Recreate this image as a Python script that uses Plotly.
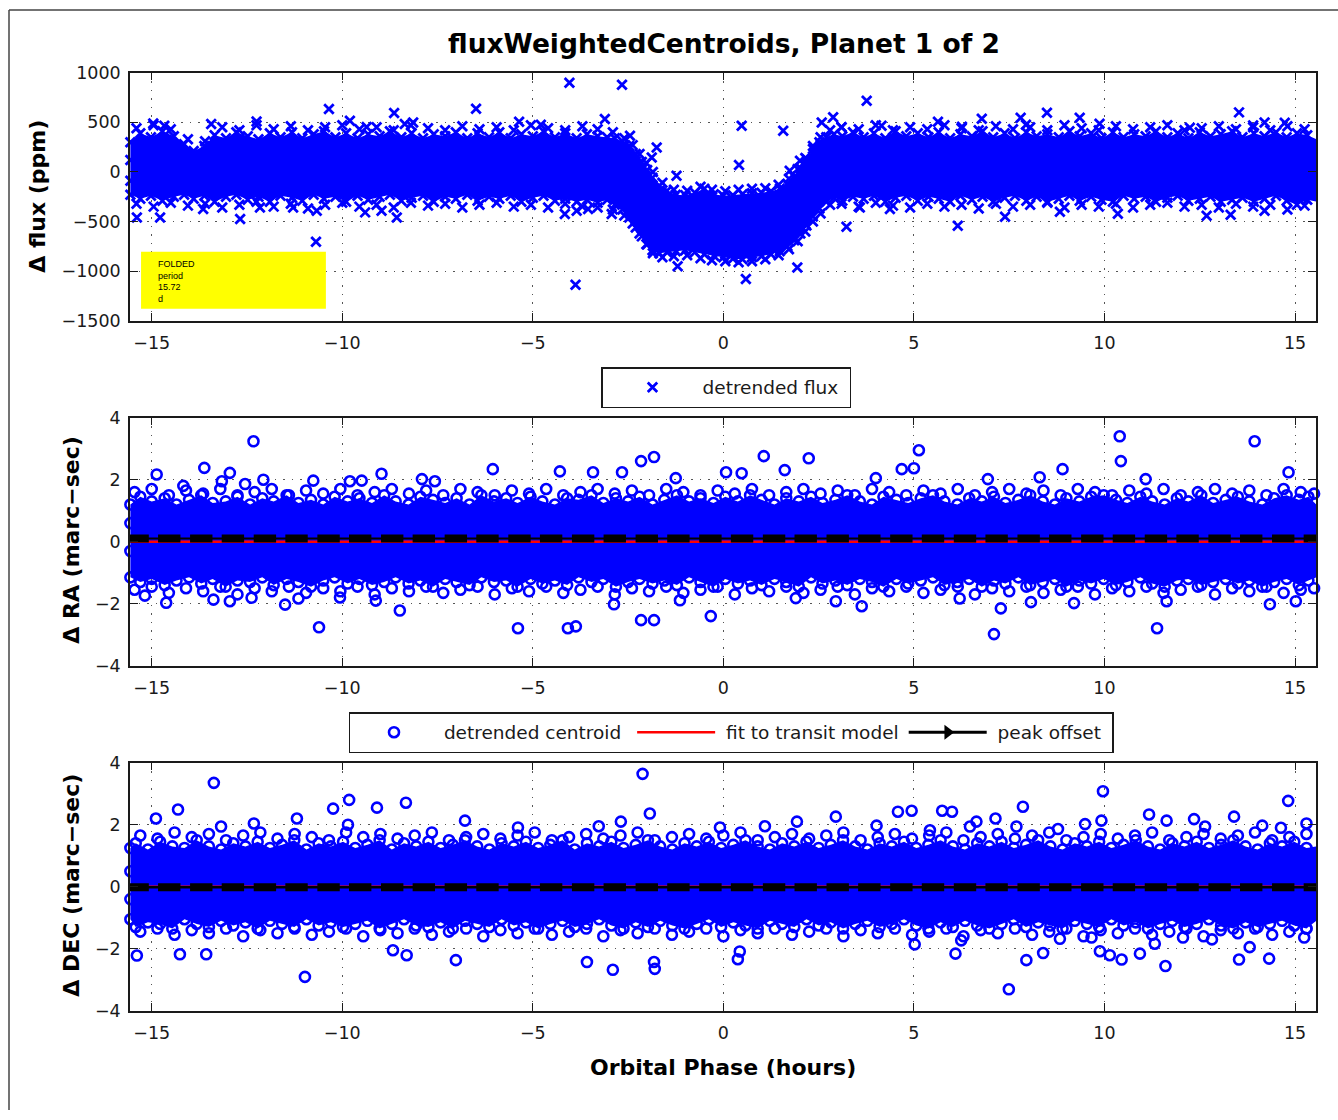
import plotly.graph_objects as go

# ------------------------------------------------------------------ data
phase_ticks = [-15, -10, -5, 0, 5, 10, 15]
flux_ticks = [-1500, -1000, -500, 0, 500, 1000]
cent_ticks = [-4, -2, 0, 2, 4]

# boundary of the dense folded-flux cloud: (phase h, upper ppm, lower ppm)
flux_cloud_edge = [
    (-15.56, 300, -230), (-15.3, 390, -270), (-15.02, 350, -240), (-14.72, 410, -290), (-14.42, 360, -250),
    (-14.15, 280, -230), (-13.9, 210, -270), (-13.62, 260, -240), (-13.35, 370, -300), (-13.05, 340, -250),
    (-12.78, 400, -230), (-12.48, 360, -280), (-12.2, 330, -250), (-11.9, 390, -300), (-11.62, 350, -240),
    (-11.32, 400, -260), (-11.05, 340, -290), (-10.75, 380, -230), (-10.48, 410, -270), (-10.18, 350, -250),
    (-9.9, 390, -300), (-9.6, 340, -240), (-9.32, 380, -280), (-9.02, 360, -250), (-8.75, 410, -230),
    (-8.45, 350, -290), (-8.18, 390, -260), (-7.88, 340, -240), (-7.6, 380, -300), (-7.3, 360, -250),
    (-7.02, 400, -270), (-6.72, 340, -230), (-6.45, 390, -290), (-6.15, 350, -250), (-5.88, 400, -270),
    (-5.58, 340, -240), (-5.3, 380, -300), (-5.0, 360, -260), (-4.72, 410, -240), (-4.42, 350, -290),
    (-4.15, 390, -270), (-3.85, 340, -300), (-3.58, 380, -280), (-3.3, 360, -310), (-3.05, 350, -280),
    (-2.85, 340, -330), (-2.65, 310, -380), (-2.47, 260, -460), (-2.3, 180, -560), (-2.14, 100, -650),
    (-2.0, 20, -730), (-1.86, -60, -790), (-1.68, -140, -820), (-1.48, -190, -810), (-1.25, -230, -800),
    (-1.0, -235, -790), (-0.75, -210, -810), (-0.5, -170, -830), (-0.25, -225, -845), (0.0, -240, -860),
    (0.25, -235, -875), (0.5, -225, -880), (0.75, -215, -860), (1.0, -210, -850), (1.25, -195, -830),
    (1.48, -170, -800), (1.68, -120, -750), (1.86, -50, -690), (2.02, 40, -620), (2.18, 130, -540),
    (2.35, 230, -450), (2.52, 300, -370), (2.7, 350, -300), (2.9, 380, -260), (3.12, 360, -290),
    (3.4, 400, -250), (3.68, 350, -270), (3.95, 390, -240), (4.25, 340, -300), (4.52, 410, -260),
    (4.8, 360, -240), (5.1, 390, -290), (5.38, 350, -250), (5.65, 400, -270), (5.95, 340, -300),
    (6.22, 380, -240), (6.52, 360, -280), (6.8, 410, -250), (7.08, 350, -300), (7.38, 390, -260),
    (7.65, 340, -240), (7.95, 400, -290), (8.22, 360, -250), (8.5, 380, -300), (8.8, 350, -270),
    (9.08, 410, -240), (9.35, 360, -290), (9.65, 390, -250), (9.92, 340, -280), (10.22, 400, -300),
    (10.5, 350, -240), (10.78, 380, -270), (11.08, 360, -250), (11.35, 410, -300), (11.65, 350, -260),
    (11.92, 390, -240), (12.2, 340, -290), (12.5, 400, -270), (12.78, 360, -250), (13.05, 380, -300),
    (13.35, 410, -280), (13.62, 350, -260), (13.92, 390, -300), (14.2, 360, -270), (14.5, 400, -240),
    (14.78, 350, -290), (15.05, 390, -330), (15.32, 370, -280), (15.56, 330, -300)]
# looser points just outside that boundary: (phase h, upper ppm, lower ppm)
flux_fringe = [
    (-15.4, 440, -320), (-14.95, 470, -350), (-14.5, 430, -310), (-14.05, 330, -340), (-13.6, 310, -320),
    (-13.15, 450, -360), (-12.7, 420, -330), (-12.25, 470, -300), (-11.8, 430, -350), (-11.35, 460, -320),
    (-10.9, 420, -370), (-10.45, 450, -330), (-10.0, 470, -310), (-9.55, 430, -350), (-9.1, 450, -330),
    (-8.65, 420, -360), (-8.2, 470, -310), (-7.75, 440, -340), (-7.3, 420, -320), (-6.85, 460, -360),
    (-6.4, 430, -330), (-5.95, 450, -310), (-5.5, 420, -350), (-5.05, 470, -330), (-4.6, 440, -360),
    (-4.15, 420, -320), (-3.7, 460, -350), (-3.3, 430, -360), (-2.9, 400, -380), (-2.6, 340, -440),
    (-2.38, 270, -520), (-2.2, 180, -620), (-2.02, 90, -730), (-1.85, 0, -820), (-1.6, -110, -860),
    (-1.3, -180, -850), (-0.95, -190, -840), (-0.6, -150, -870), (-0.3, -180, -890), (0.05, -195, -900),
    (0.4, -180, -910), (0.75, -170, -900), (1.1, -165, -880), (1.45, -130, -840), (1.72, -70, -780),
    (1.95, 30, -700), (2.15, 140, -600), (2.35, 260, -500), (2.55, 350, -420), (2.8, 420, -330),
    (3.1, 450, -320), (3.55, 430, -350), (4.0, 470, -310), (4.45, 420, -340), (4.9, 450, -360),
    (5.35, 430, -320), (5.8, 470, -350), (6.25, 440, -330), (6.7, 420, -370), (7.15, 460, -320),
    (7.6, 430, -350), (8.05, 450, -330), (8.5, 420, -310), (8.95, 470, -360), (9.4, 440, -330),
    (9.85, 420, -350), (10.3, 460, -320), (10.75, 430, -360), (11.2, 450, -330), (11.65, 470, -310),
    (12.1, 420, -350), (12.55, 440, -330), (13.0, 460, -360), (13.45, 430, -320), (13.9, 450, -350),
    (14.35, 420, -330), (14.8, 460, -380), (15.25, 430, -340), (15.56, 400, -320)]
flux_outliers = [(-15.39, -459), (-14.96, 489), (-14.78, -459), (-14.67, 466), (-13.65, -374), (-13.44, 483),
                 (-12.68, -475), (-12.25, 509), (-12.16, -358), (-11.29, -358), (-10.69, -703), (-10.67, -391),
                 (-10.35, 634), (-9.8, 516), (-9.4, -408), (-9.36, 452), (-8.97, -391), (-8.64, 594), (-8.57, -459),
                 (-8.36, 483), (-8.14, 499), (-6.49, 637), (-5.36, 506), (-4.79, 476), (-4.16, -424), (-4.04, 899),
                 (-3.88, -1137), (-3.85, -391), (-3.55, -374), (-3.11, 533), (-2.93, -424), (-2.66, 879),
                 (-2.45, 365), (-1.88, 146), (-1.75, 247), (-1.23, -38), (-1.2, -952), (0.41, 70), (0.48, 466),
                 (0.59, -1080), (1.57, 415), (1.74, 12), (1.94, -963), (2.01, 113), (2.58, 499), (2.88, 550),
                 (3.1, 449), (3.23, -552), (3.58, -358), (3.76, 718), (4.15, 466), (4.37, -374),
                 (5.63, 506), (6.15, -542), (6.26, 455), (6.78, 536), (7.39, -452), (7.8, 546), (7.94, 476),
                 (8.49, 597), (8.83, -401), (9.35, 546), (9.87, 486), (10.35, -421), (12.24, 445), (12.68, -441),
                 (13.31, -431), (13.53, 600), (13.9, 469), (14.2, 499), (14.2, -391), (14.73, 496), (15.56, -358),
                 (-15.56, 120), (-15.56, -90), (15.56, 160), (15.56, -140)]

# boundary of the dense RA centroid cloud: (phase h, upper, lower) in marc-sec
ra_cloud_edge = [
    (-15.56, 1.2, -1.15), (-15.3, 1.45, -1.3), (-15.0, 1.3, -1.2), (-14.66, 1.4, -1.4), (-14.35, 1.2, -1.25),
    (-14.02, 1.35, -1.15), (-13.7, 1.5, -1.35), (-13.4, 1.25, -1.2), (-13.06, 1.3, -1.45), (-12.75, 1.45, -1.25),
    (-12.42, 1.2, -1.3), (-12.1, 1.4, -1.15), (-11.8, 1.3, -1.4), (-11.46, 1.5, -1.2), (-11.15, 1.25, -1.3),
    (-10.82, 1.35, -1.45), (-10.5, 1.2, -1.25), (-10.2, 1.45, -1.15), (-9.86, 1.3, -1.35), (-9.55, 1.4, -1.2),
    (-9.22, 1.25, -1.4), (-8.9, 1.5, -1.3), (-8.6, 1.3, -1.15), (-8.26, 1.2, -1.35), (-7.95, 1.45, -1.25),
    (-7.62, 1.35, -1.45), (-7.3, 1.25, -1.2), (-7.0, 1.4, -1.3), (-6.66, 1.2, -1.4), (-6.35, 1.5, -1.15),
    (-6.02, 1.3, -1.3), (-5.7, 1.4, -1.25), (-5.4, 1.25, -1.45), (-5.06, 1.45, -1.2), (-4.75, 1.3, -1.35),
    (-4.42, 1.2, -1.25), (-4.1, 1.4, -1.4), (-3.8, 1.35, -1.15), (-3.46, 1.5, -1.3), (-3.15, 1.25, -1.2),
    (-2.82, 1.4, -1.45), (-2.5, 1.3, -1.3), (-2.2, 1.45, -1.2), (-1.86, 1.2, -1.35), (-1.55, 1.35, -1.25),
    (-1.22, 1.5, -1.4), (-0.9, 1.3, -1.15), (-0.6, 1.4, -1.3), (-0.26, 1.25, -1.45), (0.05, 1.45, -1.2),
    (0.38, 1.3, -1.35), (0.7, 1.5, -1.25), (1.0, 1.35, -1.4), (1.34, 1.2, -1.2), (1.65, 1.4, -1.3),
    (1.98, 1.3, -1.45), (2.3, 1.45, -1.15), (2.6, 1.25, -1.35), (2.94, 1.35, -1.25), (3.25, 1.5, -1.4),
    (3.58, 1.3, -1.2), (3.9, 1.2, -1.3), (4.2, 1.45, -1.45), (4.54, 1.35, -1.2), (4.85, 1.25, -1.35),
    (5.18, 1.4, -1.25), (5.5, 1.5, -1.15), (5.8, 1.3, -1.4), (6.14, 1.2, -1.3), (6.45, 1.4, -1.2),
    (6.78, 1.3, -1.45), (7.1, 1.45, -1.25), (7.4, 1.25, -1.35), (7.74, 1.35, -1.15), (8.05, 1.5, -1.4),
    (8.38, 1.3, -1.3), (8.7, 1.2, -1.2), (9.0, 1.4, -1.45), (9.34, 1.3, -1.25), (9.65, 1.45, -1.35),
    (9.98, 1.5, -1.2), (10.3, 1.35, -1.4), (10.6, 1.25, -1.3), (10.94, 1.45, -1.15), (11.25, 1.3, -1.35),
    (11.58, 1.2, -1.45), (11.9, 1.4, -1.25), (12.2, 1.3, -1.2), (12.54, 1.5, -1.4), (12.85, 1.25, -1.3),
    (13.18, 1.35, -1.2), (13.5, 1.45, -1.35), (13.8, 1.3, -1.25), (14.14, 1.2, -1.45), (14.45, 1.4, -1.3),
    (14.78, 1.5, -1.2), (15.1, 1.35, -1.4), (15.35, 1.45, -1.25), (15.56, 1.2, -1.15)]
ra_fringe = [
    (-15.45, 1.6, -1.55), (-15.0, 1.7, -1.45), (-14.55, 1.5, -1.65), (-14.1, 1.65, -1.5), (-13.65, 1.55, -1.6),
    (-13.2, 1.7, -1.45), (-12.75, 1.5, -1.7), (-12.3, 1.6, -1.5), (-11.85, 1.7, -1.6), (-11.4, 1.5, -1.45),
    (-10.95, 1.65, -1.65), (-10.5, 1.55, -1.5), (-10.05, 1.7, -1.6), (-9.6, 1.5, -1.45), (-9.15, 1.6, -1.7),
    (-8.7, 1.7, -1.5), (-8.25, 1.55, -1.6), (-7.8, 1.65, -1.45), (-7.35, 1.5, -1.65), (-6.9, 1.7, -1.55),
    (-6.45, 1.6, -1.45), (-6.0, 1.5, -1.7), (-5.55, 1.65, -1.5), (-5.1, 1.55, -1.6), (-4.65, 1.7, -1.45),
    (-4.2, 1.5, -1.65), (-3.75, 1.6, -1.55), (-3.3, 1.7, -1.45), (-2.85, 1.55, -1.7), (-2.4, 1.65, -1.5),
    (-1.95, 1.5, -1.6), (-1.5, 1.7, -1.45), (-1.05, 1.6, -1.65), (-0.6, 1.5, -1.55), (-0.15, 1.65, -1.45),
    (0.3, 1.55, -1.7), (0.75, 1.7, -1.5), (1.2, 1.5, -1.6), (1.65, 1.6, -1.45), (2.1, 1.7, -1.65),
    (2.55, 1.55, -1.55), (3.0, 1.65, -1.45), (3.45, 1.5, -1.7), (3.9, 1.7, -1.5), (4.35, 1.6, -1.6),
    (4.8, 1.5, -1.45), (5.25, 1.65, -1.65), (5.7, 1.55, -1.55), (6.15, 1.7, -1.45), (6.6, 1.5, -1.7),
    (7.05, 1.6, -1.5), (7.5, 1.7, -1.6), (7.95, 1.55, -1.45), (8.4, 1.65, -1.65), (8.85, 1.5, -1.55),
    (9.3, 1.7, -1.45), (9.75, 1.6, -1.7), (10.2, 1.5, -1.5), (10.65, 1.65, -1.6), (11.1, 1.55, -1.45),
    (11.55, 1.7, -1.65), (12.0, 1.5, -1.55), (12.45, 1.6, -1.45), (12.9, 1.7, -1.7), (13.35, 1.55, -1.5),
    (13.8, 1.65, -1.6), (14.25, 1.5, -1.45), (14.7, 1.7, -1.65), (15.15, 1.6, -1.55), (15.5, 1.55, -1.5)]
ra_outliers = [(-14.87, 2.17), (-14.17, 1.8), (-13.62, 2.38), (-13.16, 1.95), (-12.95, 2.22), (-12.55, 1.86),
               (-12.33, 3.24), (-12.07, 2.0), (-10.76, 1.97), (-9.8, 1.95), (-9.49, 1.97), (-8.97, 2.19),
               (-7.91, 2.02), (-7.57, 1.95), (-6.05, 2.34), (-4.29, 2.27), (-3.42, 2.24), (-2.66, 2.24),
               (-2.16, 2.6), (-1.82, 2.73), (-1.25, 2.05), (0.07, 2.24), (0.48, 2.21), (1.06, 2.76), (1.61, 2.31),
               (2.24, 2.69), (4.0, 2.05), (4.68, 2.34), (5.0, 2.37), (5.13, 2.95), (6.94, 2.02), (8.3, 2.08),
               (8.9, 2.34), (10.4, 3.4), (10.43, 2.6), (11.08, 2.02), (13.94, 3.24), (14.83, 2.24),
               (-15.18, -1.74), (-14.62, -1.97), (-13.38, -1.87), (-12.95, -1.92), (-12.38, -1.81), (-11.5, -2.03),
               (-11.15, -1.83), (-10.61, -2.76), (-10.06, -1.8), (-9.12, -1.9), (-8.49, -2.22), (-5.39, -2.79),
               (-4.08, -2.79), (-3.87, -2.73), (-2.87, -2.02), (-2.16, -2.53), (-1.82, -2.53), (-1.14, -1.89),
               (-0.33, -2.4), (1.9, -1.82), (2.95, -1.92), (3.63, -2.08), (6.2, -1.83), (7.1, -2.98),
               (7.28, -2.15), (8.07, -1.95), (9.2, -1.98), (11.38, -2.79), (11.63, -1.92), (14.34, -2.02),
               (15.02, -1.92), (-15.56, 0.6), (-15.56, -0.3), (15.56, 0.5), (15.56, -0.4)]

# boundary of the dense DEC centroid cloud: (phase h, upper, lower) in marc-sec
dec_cloud_edge = [
    (-15.56, 1.25, -1.05), (-15.42, 1.4, -1.3), (-15.1, 1.2, -1.15), (-14.78, 1.45, -1.2), (-14.46, 1.3, -1.35),
    (-14.14, 1.25, -1.05), (-13.82, 1.5, -1.2), (-13.5, 1.3, -1.3), (-13.18, 1.2, -1.1), (-12.86, 1.4, -1.25),
    (-12.54, 1.3, -1.15), (-12.22, 1.45, -1.35), (-11.9, 1.25, -1.1), (-11.58, 1.35, -1.2), (-11.26, 1.5, -1.3),
    (-10.94, 1.2, -1.05), (-10.62, 1.4, -1.25), (-10.3, 1.3, -1.15), (-9.98, 1.45, -1.3), (-9.66, 1.25, -1.2),
    (-9.34, 1.35, -1.1), (-9.02, 1.5, -1.35), (-8.7, 1.2, -1.2), (-8.38, 1.4, -1.05), (-8.06, 1.3, -1.25),
    (-7.74, 1.45, -1.3), (-7.42, 1.25, -1.15), (-7.1, 1.35, -1.35), (-6.78, 1.5, -1.1), (-6.46, 1.3, -1.2),
    (-6.14, 1.2, -1.3), (-5.82, 1.4, -1.05), (-5.5, 1.3, -1.25), (-5.18, 1.45, -1.15), (-4.86, 1.25, -1.35),
    (-4.54, 1.35, -1.2), (-4.22, 1.5, -1.1), (-3.9, 1.2, -1.3), (-3.58, 1.4, -1.2), (-3.26, 1.3, -1.05),
    (-2.94, 1.45, -1.25), (-2.62, 1.25, -1.35), (-2.3, 1.35, -1.15), (-1.98, 1.5, -1.3), (-1.66, 1.3, -1.1),
    (-1.34, 1.2, -1.25), (-1.02, 1.4, -1.35), (-0.7, 1.3, -1.2), (-0.38, 1.45, -1.05), (-0.06, 1.25, -1.3),
    (0.26, 1.35, -1.15), (0.58, 1.5, -1.25), (0.9, 1.3, -1.35), (1.22, 1.2, -1.1), (1.54, 1.4, -1.2),
    (1.86, 1.3, -1.3), (2.18, 1.45, -1.05), (2.5, 1.25, -1.25), (2.82, 1.35, -1.15), (3.14, 1.5, -1.35),
    (3.46, 1.3, -1.2), (3.78, 1.2, -1.1), (4.1, 1.4, -1.3), (4.42, 1.3, -1.2), (4.74, 1.45, -1.05),
    (5.06, 1.25, -1.25), (5.38, 1.35, -1.35), (5.7, 1.5, -1.15), (6.02, 1.3, -1.3), (6.34, 1.2, -1.1),
    (6.66, 1.4, -1.25), (6.98, 1.3, -1.35), (7.3, 1.45, -1.2), (7.62, 1.25, -1.05), (7.94, 1.35, -1.3),
    (8.26, 1.5, -1.15), (8.58, 1.3, -1.25), (8.9, 1.2, -1.35), (9.22, 1.4, -1.1), (9.54, 1.3, -1.2),
    (9.86, 1.45, -1.3), (10.18, 1.25, -1.05), (10.5, 1.35, -1.25), (10.82, 1.5, -1.15), (11.14, 1.3, -1.35),
    (11.46, 1.2, -1.2), (11.78, 1.4, -1.1), (12.1, 1.3, -1.3), (12.42, 1.45, -1.2), (12.74, 1.25, -1.05),
    (13.06, 1.35, -1.25), (13.38, 1.5, -1.35), (13.7, 1.3, -1.15), (14.02, 1.2, -1.3), (14.34, 1.4, -1.2),
    (14.66, 1.3, -1.1), (14.98, 1.45, -1.25), (15.3, 1.25, -1.35), (15.56, 1.3, -1.1)]
dec_fringe = [
    (-15.3, 1.65, -1.45), (-14.85, 1.55, -1.35), (-14.4, 1.75, -1.55), (-13.95, 1.6, -1.4), (-13.5, 1.7, -1.5),
    (-13.05, 1.5, -1.35), (-12.6, 1.65, -1.6), (-12.15, 1.75, -1.4), (-11.7, 1.55, -1.5), (-11.25, 1.7, -1.35),
    (-10.8, 1.6, -1.55), (-10.35, 1.5, -1.45), (-9.9, 1.75, -1.35), (-9.45, 1.6, -1.6), (-9.0, 1.7, -1.4),
    (-8.55, 1.55, -1.5), (-8.1, 1.65, -1.35), (-7.65, 1.75, -1.55), (-7.2, 1.5, -1.45), (-6.75, 1.6, -1.35),
    (-6.3, 1.7, -1.6), (-5.85, 1.55, -1.4), (-5.4, 1.65, -1.5), (-4.95, 1.75, -1.35), (-4.5, 1.5, -1.55),
    (-4.05, 1.6, -1.45), (-3.6, 1.7, -1.35), (-3.15, 1.55, -1.6), (-2.7, 1.65, -1.4), (-2.25, 1.75, -1.5),
    (-1.8, 1.5, -1.35), (-1.35, 1.6, -1.55), (-0.9, 1.7, -1.45), (-0.45, 1.55, -1.35), (0.0, 1.65, -1.6),
    (0.45, 1.75, -1.4), (0.9, 1.5, -1.5), (1.35, 1.6, -1.35), (1.8, 1.7, -1.55), (2.25, 1.55, -1.45),
    (2.7, 1.65, -1.35), (3.15, 1.75, -1.6), (3.6, 1.5, -1.4), (4.05, 1.6, -1.5), (4.5, 1.7, -1.35),
    (4.95, 1.55, -1.55), (5.4, 1.65, -1.45), (5.85, 1.75, -1.35), (6.3, 1.5, -1.6), (6.75, 1.6, -1.4),
    (7.2, 1.7, -1.5), (7.65, 1.55, -1.35), (8.1, 1.65, -1.55), (8.55, 1.75, -1.45), (9.0, 1.5, -1.35),
    (9.45, 1.6, -1.6), (9.9, 1.7, -1.4), (10.35, 1.55, -1.5), (10.8, 1.65, -1.35), (11.25, 1.75, -1.55),
    (11.7, 1.5, -1.45), (12.15, 1.6, -1.35), (12.6, 1.7, -1.6), (13.05, 1.55, -1.4), (13.5, 1.65, -1.5),
    (13.95, 1.75, -1.35), (14.4, 1.5, -1.55), (14.85, 1.6, -1.45), (15.3, 1.7, -1.35)]
dec_outliers = [(-14.89, 2.2), (-14.31, 2.49), (-13.37, 3.35), (-13.18, 1.94), (-12.32, 2.04), (-11.19, 2.2),
                (-10.24, 2.52), (-9.85, 2.0), (-9.82, 2.8), (-9.09, 2.55), (-8.33, 2.71), (-6.78, 2.13),
                (-5.39, 1.91), (-3.27, 1.95), (-2.69, 2.1), (-2.12, 3.64), (-1.93, 2.36), (-0.09, 1.91),
                (1.09, 1.95), (1.93, 2.1), (2.95, 2.26), (4.02, 1.97), (4.58, 2.42), (4.94, 2.45), (5.42, 1.82),
                (5.74, 2.45), (6.0, 2.42), (6.47, 1.94), (6.64, 2.1), (7.14, 2.2), (7.69, 1.94), (7.86, 2.58),
                (8.78, 1.86), (9.49, 2.02), (9.92, 2.13), (9.96, 3.08), (11.17, 2.33), (11.63, 2.13), (12.35, 2.18),
                (12.64, 1.94), (13.4, 2.26), (14.14, 1.97), (14.63, 1.9), (14.82, 2.77), (15.3, 2.04),
                (-15.39, -2.22), (-14.26, -2.18), (-13.57, -2.18), (-10.98, -2.91), (-8.67, -2.05), (-8.31, -2.21),
                (-7.02, -2.37), (-3.58, -2.43), (-2.9, -2.68), (-1.82, -2.43), (-1.8, -2.65), (0.38, -2.34),
                (0.43, -2.09), (5.02, -1.86), (6.09, -2.16), (6.24, -1.73), (7.49, -3.31), (7.95, -2.37),
                (8.39, -2.14), (8.83, -1.68), (9.66, -1.64), (9.88, -2.08), (10.14, -2.21), (10.45, -2.35),
                (10.93, -2.16), (11.32, -1.84), (11.6, -2.56), (12.06, -1.64), (12.82, -1.7), (13.53, -2.35),
                (13.81, -1.95), (14.32, -2.32), (15.24, -1.64), (-15.56, 0.5), (-15.56, -0.4), (15.56, 0.6),
                (15.56, -0.3)]

# binned peak offset and transit-model fit
bin_phase = [-15.37, -14.54, -13.70, -12.87, -12.03, -11.20, -10.36, -9.53, -8.69, -7.86, -7.02, -6.19, -5.35,
             -4.52, -3.68, -2.85, -2.01, -1.18, -0.34, 0.49, 1.33, 2.16, 3.00, 3.83, 4.67, 5.50, 6.34, 7.17, 8.01,
             8.84, 9.68, 10.51, 11.35, 12.18, 13.02, 13.85, 14.69, 15.52]
ra_peak_offset = [0.1, 0.1, 0.1, 0.1, 0.1, 0.1, 0.1, 0.1, 0.1, 0.1, 0.1, 0.1, 0.1, 0.1, 0.1, 0.1, 0.1, 0.1, 0.1,
                  0.1, 0.1, 0.1, 0.1, 0.1, 0.1, 0.1, 0.1, 0.1, 0.1, 0.1, 0.1, 0.1, 0.1, 0.1, 0.1, 0.1, 0.1, 0.1]
dec_peak_offset = [-0.02, -0.02, -0.02, -0.02, -0.02, -0.02, -0.02, -0.02, -0.02, -0.02, -0.02, -0.02, -0.02,
                   -0.02, -0.02, -0.02, -0.02, -0.02, -0.02, -0.02, -0.02, -0.02, -0.02, -0.02, -0.02, -0.02,
                   -0.02, -0.02, -0.02, -0.02, -0.02, -0.02, -0.02, -0.02, -0.02, -0.02, -0.02, -0.02]
fit_phase = [-15.56, 15.56]
ra_fit = [0.0, 0.0]
dec_fit = [0.0, 0.0]

fold_text = ["FOLDED", "period", "15.72", "d"]

# ------------------------------------------------------------------ style
BLUE = "#0000ff"
INK = "#1a1a1a"
W, H = 1338, 1120
Y0, HE = 9.3, 1100.0          # observed vertical placement of the paper in the photographed page
XL, XR = 130, 1316
PANELS = [(72, 320), (417, 665), (762, 1010)]
FONT = "DejaVu Sans"
NB = "\u00a0"


def fy(py):
    """pixel row in the target picture -> paper fraction"""
    return 1 - (py - Y0) / HE


fig = go.Figure()


def cloud(xref, yref, edge, fringe, outliers, marker, **kw):
    px = [e[0] for e in edge]
    up = [e[1] for e in edge]
    lo = [e[2] for e in edge]
    fig.add_trace(go.Scatter(x=px, y=lo, mode="lines", line=dict(width=0, color=BLUE), xaxis=xref, yaxis=yref,
                             showlegend=False, hoverinfo="skip"))
    fig.add_trace(go.Scatter(x=px, y=up, mode="lines", line=dict(width=0, color=BLUE), fill="tonexty",
                             fillcolor=BLUE, xaxis=xref, yaxis=yref, showlegend=False, hoverinfo="skip"))
    xs = px + px + [f[0] for f in fringe] + [f[0] for f in fringe] + [o[0] for o in outliers]
    ys = up + lo + [f[1] for f in fringe] + [f[2] for f in fringe] + [o[1] for o in outliers]
    fig.add_trace(go.Scatter(x=xs, y=ys, mode="markers", xaxis=xref, yaxis=yref, marker=marker,
                             cliponaxis=False, **kw))


x_marker = dict(symbol="x-thin-open", size=9.5, color=BLUE, line=dict(width=2.8, color=BLUE))
o_marker = dict(symbol="circle-open", size=10, color=BLUE, line=dict(width=2.6, color=BLUE))
peak_marker = dict(symbol="line-ew", size=16, color="black", line=dict(width=8, color="black"))

# panel 1: flux
cloud("x", "y", flux_cloud_edge, flux_fringe, flux_outliers, x_marker, name="detrended flux" + NB,
      legend="legend")

# panel 2: RA
cloud("x2", "y2", ra_cloud_edge, ra_fringe, ra_outliers, o_marker, name=NB + "detrended centroid" + NB,
      legend="legend2")
fig.add_trace(go.Scatter(x=fit_phase, y=ra_fit, mode="lines", name=NB + "fit to transit model",
                         xaxis="x2", yaxis="y2", line=dict(color="#ff0000", width=2.5), legend="legend2"))
fig.add_trace(go.Scatter(x=bin_phase, y=ra_peak_offset, mode="lines+markers", xaxis="x2", yaxis="y2",
                         line=dict(color="black", width=2), marker=peak_marker, showlegend=False))
fig.add_trace(go.Scatter(x=[None], y=[None], mode="lines+markers", name=NB + "peak offset" + NB, xaxis="x2",
                         yaxis="y2", line=dict(color="black", width=3),
                         marker=dict(symbol="triangle-right", size=13, color="black"), legend="legend2"))

# panel 3: DEC
cloud("x3", "y3", dec_cloud_edge, dec_fringe, dec_outliers, o_marker, showlegend=False)
fig.add_trace(go.Scatter(x=fit_phase, y=dec_fit, mode="lines", xaxis="x3", yaxis="y3", showlegend=False,
                         line=dict(color="#ff0000", width=2.5)))
fig.add_trace(go.Scatter(x=bin_phase, y=dec_peak_offset, mode="lines+markers", xaxis="x3", yaxis="y3",
                         line=dict(color="black", width=2.5), marker=peak_marker, showlegend=False))

axis_common = dict(ticks="inside", ticklen=8, tickwidth=1.4, tickcolor=INK, showline=True, linewidth=1.5,
                   linecolor=INK, mirror="ticks", showgrid=True, gridcolor="#555555", griddash="1.5px,7px",
                   gridwidth=1.2, zeroline=False, tickfont=dict(family=FONT, size=17.5, color=INK))

layout = dict(width=W, height=H, margin=dict(l=0, r=0, t=0, b=0), autosize=False,
              paper_bgcolor="white", plot_bgcolor="white", showlegend=True)
for i, (top, bot) in enumerate(PANELS):
    sfx = "" if i == 0 else str(i + 1)
    layout["xaxis" + sfx] = dict(axis_common, domain=[XL / W, XR / W], range=[-15.57, 15.55],
                                 tickvals=phase_ticks, anchor="y" + sfx, ticklabelstandoff=6)
    yv, yr = (flux_ticks, [-1500, 1000]) if i == 0 else (cent_ticks, [-4, 4])
    layout["yaxis" + sfx] = dict(axis_common, domain=[fy(bot), fy(top)], range=yr, tickvals=yv,
                                 anchor="x" + sfx, ticklabelstandoff=4)

legend_common = dict(xanchor="center", yanchor="middle", bgcolor="white", bordercolor=INK, borderwidth=1.5,
                     font=dict(family=FONT, size=18.5, color=INK), orientation="h")
layout["legend"] = dict(legend_common, x=726 / W, y=fy(387), itemwidth=90)
layout["legend2"] = dict(legend_common, x=731 / W, y=fy(732), itemwidth=78)

layout["annotations"] = [
    dict(text="<b>fluxWeightedCentroids, Planet 1 of 2</b>", x=723.5 / W, y=fy(43), xref="paper",
         yref="paper", showarrow=False, xanchor="center", yanchor="middle",
         font=dict(family=FONT, size=26.5, color="black")),
    dict(text="<b>Orbital Phase (hours)</b>", x=723 / W, y=fy(1067), xref="paper", yref="paper",
         showarrow=False, xanchor="center", yanchor="middle", font=dict(family=FONT, size=22, color="black")),
    dict(text="<b>Δ flux (ppm)</b>", x=38 / W, y=fy(196), xref="paper", yref="paper", textangle=-90,
         showarrow=False, xanchor="center", yanchor="middle", font=dict(family=FONT, size=22, color="black")),
    dict(text="<b>Δ RA (marc−sec)</b>", x=72 / W, y=fy(539), xref="paper", yref="paper", textangle=-90,
         showarrow=False, xanchor="center", yanchor="middle", font=dict(family=FONT, size=22, color="black")),
    dict(text="<b>Δ DEC (marc−sec)</b>", x=72 / W, y=fy(885), xref="paper", yref="paper", textangle=-90,
         showarrow=False, xanchor="center", yanchor="middle", font=dict(family=FONT, size=22, color="black")),
    dict(text="<br>".join(fold_text), x=-14.9, y=-860, xref="x", yref="y",
         showarrow=False, xanchor="left", yanchor="top", align="left",
         font=dict(family="Liberation Sans", size=9, color="black")),
]
layout["shapes"] = [
    dict(type="rect", xref="x", yref="y", x0=-15.28, x1=-10.43, y0=-1379, y1=-804, fillcolor="#ffff00",
         line=dict(width=0), layer="above"),
    dict(type="line", xref="paper", yref="paper", x0=9 / W, x1=9 / W, y0=0, y1=1,
         line=dict(color="#444444", width=1.5)),
    dict(type="line", xref="paper", yref="paper", x0=9 / W, x1=1, y0=1, y1=1,
         line=dict(color="#444444", width=1.5)),
]
fig.update_layout(**layout)
fig.write_html("out.html")
